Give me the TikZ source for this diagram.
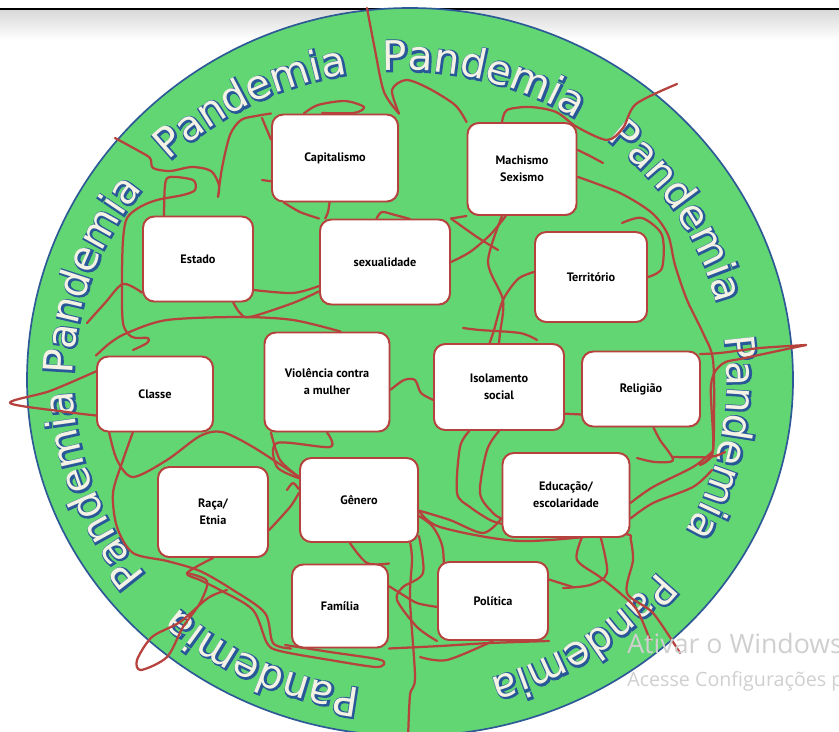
\documentclass[tikz,border=0pt]{standalone}
\usepackage{fontspec}
\setmainfont{PT Sans}
\newfontfamily\pandfont{DejaVu Sans}
\newfontfamily\winfont{Open Sans}
\usetikzlibrary{decorations.text,shadows}

\definecolor{ringgreen}{RGB}{99,214,116}
\definecolor{ringedge}{RGB}{45,90,150}
\definecolor{knot}{RGB}{182,66,61}
\definecolor{letterfill}{RGB}{244,242,228}
\definecolor{letteredge}{RGB}{40,88,152}

\pgfdeclarelayer{back}
\pgfdeclarelayer{mid}
\pgfsetlayers{back,mid,main}

% letters: a stroked copy gives the outline, a plain copy fills it
\newcommand\pandstroke{\special{pdf:literal direct 2 Tr 2.2 w}}
\newcommand\pandplain{\special{pdf:literal direct 0 Tr}}

\tikzset{
  theme/.style={draw=knot, fill=white, rounded corners=8pt, line width=1.4pt,
    align=center, inner sep=2pt,
    font=\bfseries\fontsize{8.7}{12}\selectfont,
    drop shadow={opacity=.25, shadow xshift=.8pt, shadow yshift=-.8pt}},
  knotline/.style={draw=knot, line width=1.6pt, line cap=round, line join=round},
  ringword/.style={decorate, decoration={text along path,
    text={|\pandfont\fontsize{29}{29}\selectfont#1|Pandemia}}}
}

\begin{document}
\begin{tikzpicture}[x=0.025cm, y=-0.025cm]
  \useasboundingbox (0,0) rectangle (839,731);

  % themes
  \foreach \nm/\cx/\cy/\w/\h/\txt in {cap/335/158/126/87/Capitalismo,
                                      mach/522/169/109/92/{Machismo\\Sexismo},
                                      est/198/259/110/85/Estado,
                                      sex/385/262/130/85/sexualidade,
                                      terr/591/277/112/90/Território,
                                      cla/155/394/116/75/Classe,
                                      viol/327/382/125/99/{Violência contra\\a mulher},
                                      iso/499/387/130/86/{Isolamento\\social},
                                      rel/641/389/118/75/Religião,
                                      raca/213/512/110/90/{Raça/\\Etnia},
                                      gen/359/500/118/84/Gênero,
                                      edu/566/495/127/84/{Educação/\\escolaridade},
                                      fam/340/606/96/83/Família,
                                      pol/493/601/110/78/Política}
  {\node[theme, minimum width=\w*0.025cm, minimum height=\h*0.025cm] (\nm) at (\cx,\cy) {\txt};};

  % watermark
  \node[anchor=base west, inner sep=0, text=gray!38, font=\winfont\fontsize{19}{19}\selectfont]
    (win) at (627,653) {Ativar o Windows};
  \node[anchor=base west, inner sep=0, text=gray!38, font=\winfont\fontsize{14}{14}\selectfont]
    (conf) at (627,686) {Acesse Configurações p};

  \begin{pgfonlayer}{back}
    \shade[top color=gray!30, bottom color=white] (0,10) rectangle (839,40);
    \draw[line width=1.4pt] (0,9) -- (839,9);
    \filldraw[fill=ringgreen, draw=ringedge, line width=1.2pt]
      (793,380) arc[start angle=0, end angle=180, x radius=383, y radius=356]
      arc[start angle=180, end angle=360, x radius=383, y radius=372] -- cycle;
    \begin{scope}[x=1cm, y=1cm]
      \foreach \a/\b in {93/50, 51/8, 8/-35, -38/-81, -97/-140, -141/-184, 179/136, 135/92}
      {\path[ringword={\color{letteredge}\pandstroke}, shift={(.015,-.015)}]
          ({10+8.175*cos(\a)},{-9.5+7.75*sin(\a)}) arc[start angle=\a, end angle=\b, x radius=8.175, y radius=7.75];
       \path[ringword={\color{letterfill}\pandplain}]
          ({10+8.175*cos(\a)},{-9.5+7.75*sin(\a)}) arc[start angle=\a, end angle=\b, x radius=8.175, y radius=7.75];
      };
    \end{scope}
  \end{pgfonlayer}

  \begin{pgfonlayer}{mid}
    % upper half
    \draw[knotline] plot[smooth] coordinates {(367,8) (375,50) (384,92) (cap.north east)};
    \draw[knotline] plot[smooth] coordinates {(cap.north east) (392,90) (406,80) (428,88) (455,105) (mach.north west)};
    \draw[knotline] plot[smooth] coordinates {(cap.125) (318,105) (345,101) (364,107) (354,113) (322,113)};
    \draw[knotline] plot[smooth] coordinates {(115,138) (137,150) (150,158) (153,168) (170,171) (192,167)
      (211,171) (219,185) (218,197) (222,168) (230,135) (241,120) (256,116) (cap.north west)};
    \draw[knotline] plot[smooth] coordinates {(est.128) (165,185) (170,177) (193,180) (195,190) (183,195)
      (157,200) (140,207) (127,218) (123,240) (122,280) (123,323) (132,337) (148,338) (147,343) (133,350)};
    \draw[knotline] plot[smooth] coordinates {(87,323) (105,303) (123,284) (est.211)};
    \draw[knotline] plot[smooth] coordinates {(cla.north west) (110,343) (127,333) (167,320) (240,317)
      (293,320) (viol.75)};
    \draw[knotline] plot[smooth] coordinates {(262,180) (cap.200)};
    \draw[knotline] plot[smooth] coordinates {(262,118) (cap.164)};
    \draw[knotline] plot[smooth] coordinates {(cap.221) (300,212) (sex.north west)};
    \draw[knotline] plot[smooth] coordinates {(cap.263) (328,212) (sex.144)};
    \draw[knotline] plot[smooth] coordinates {(est.309) (240,313) (250,317) (293,303) (sex.204)};
    \draw[knotline] plot[smooth] coordinates {(est.331) (293,293) (sex.200)};
    \draw[knotline] plot[smooth] coordinates {(mach.113) (507,110) (530,107) (556,112) (577,127)
      (607,140) (623,128) (636,104) (677,84)};
    \draw[knotline] plot[smooth] coordinates {(mach.19) (590,156) (603,163)};
    \draw[knotline] plot[smooth] coordinates {(mach.352) (620,193) (652,213) (668,235) (675,265)
      (687,300) (703,333) (713,360) (714,420) (712,455) (700,465)};
    \draw[knotline] plot[smooth] coordinates {(terr.east) (662,268) (662,235) (642,218) (622,223)};
    \draw[knotline] plot[smooth] coordinates {(mach.251) (490,235) (470,252) (sex.east)};
    \draw[knotline] plot[smooth] coordinates {(sex.north east) (477,237) (498,250)};
    \draw[knotline] (mach.south west) -- (sex.north east);
    \draw[knotline] plot[smooth] coordinates {(sex.101) (382,212) (395,215) (410,219)};
    \draw[knotline] plot[smooth] coordinates {(terr.175) (518,279) (503,300) (494,330) (iso.102)};
    \draw[knotline] plot[smooth] coordinates {(463,328) (480,330) (520,333) (537,340)};
    \draw[knotline] plot[smooth] coordinates {(mach.247) (488,262) (503,300) (500,333) (iso.north)};
    \draw[knotline] plot[smooth] coordinates {(806,345) (760,348) (720,353) (700,354)};
    \draw[knotline] plot[smooth] coordinates {(806,345) (745,358) (722,364) (711,385) (713,450) (700,464)};
    % middle row
    \draw[knotline] plot[smooth] coordinates {(viol.353) (404,380) (415,380) (421,393) (iso.191)};
    \draw[knotline] plot[smooth] coordinates {(iso.338) (rel.203)};
    \draw[knotline] plot[smooth] coordinates {(cla.159) (50,391) (10,403) (67,412) (cla.200)};
    % lower half
    \draw[knotline] plot[smooth] coordinates {(cla.220) (117,460) (133,477) (167,460) (200,436)
      (222,432) (253,447) (gen.159)};
    \draw[knotline] plot[smooth] coordinates {(cla.240) (123,460) (113,493) (117,527) (133,553)
      (167,561) (200,571) (233,590) (265,613) (273,643) (fam.south west)};
    \draw[knotline] plot[smooth] coordinates {(raca.south) (187,573) (200,580) (220,590) (253,610)
      (267,643) (280,651) (330,660) (377,667) (381,660) (330,652) (285,645)};
    \draw[knotline] plot[smooth] coordinates {(227,590) (208,598) (180,622) (152,637) (137,660)
      (141,670) (167,657) (183,627) (200,603) (207,581) (187,573)};
    \draw[knotline] plot[smooth] coordinates {(gen.320) (412,560) (410,600) (415,677) (410,695) (408,740)};
    \draw[knotline] plot[smooth] coordinates {(gen.258) (367,563) (fam.north east)};
    \draw[knotline] plot[smooth] coordinates {(gen.329) (423,573) (403,587) (397,600) (417,627) (pol.south west)};
    \draw[knotline] plot[smooth] coordinates {(fam.22) (400,593) (417,603) (pol.186)};
    \draw[knotline] plot[smooth] coordinates {(fam.south east) (440,646) (490,643) (pol.south east)};
    \draw[knotline] plot[smooth] coordinates {(viol.222) (280,460) (gen.159)};
    \draw[knotline] plot[smooth] coordinates {(viol.south) (330,447) (277,443) (277,467) (gen.160)};
    \draw[knotline] plot[smooth] coordinates {(raca.342) (290,507) (gen.173)};
    \draw[knotline] plot[smooth] coordinates {(287,490) (293,483) (gen.170)};
    \draw[knotline] plot[smooth] coordinates {(iso.236) (460,447) (457,493) (470,507) (490,520) (edu.204)};
    \draw[knotline] plot[smooth] coordinates {(iso.south) (487,450) (480,493) (493,513) (edu.200)};
    \draw[knotline] plot[smooth] coordinates {(rel.288) (660,440) (673,460) (655,462) (637,458)};
    \draw[knotline] plot[smooth] coordinates {(673,457) (710,457) (725,452)};
    \draw[knotline] plot[smooth] coordinates {(edu.353) (653,487) (693,467) (712,452)};
    \draw[knotline] plot[smooth] coordinates {(edu.340) (653,503) (693,487) (712,470)};
    \draw[knotline] plot[smooth] coordinates {(edu.south east) (633,560) (627,593) (653,613) (680,653)};
    \draw[knotline] plot[smooth] coordinates {(edu.309) (607,573) (590,585) (563,588)};
    \draw[knotline] plot[smooth] coordinates {(edu.290) (577,560) (600,577) (620,593) (637,610) (650,640)};
    \draw[knotline] plot[smooth] coordinates {(gen.350) (440,527) (520,541) (620,534) (edu.south east)};
    \draw[knotline] plot[smooth] coordinates {(pol.21) (573,587)};
    \draw[knotline] plot[smooth] coordinates {(pol.south) (447,660) (420,657)};
    \draw[knotline] plot[smooth] coordinates {(gen.350) (450,520) (483,533) (edu.200)};
    \draw[knotline] plot[smooth] coordinates {(gen.345) (433,527) (443,550) (443,597) (pol.186)};
  \end{pgfonlayer}
\end{tikzpicture}
\end{document}
